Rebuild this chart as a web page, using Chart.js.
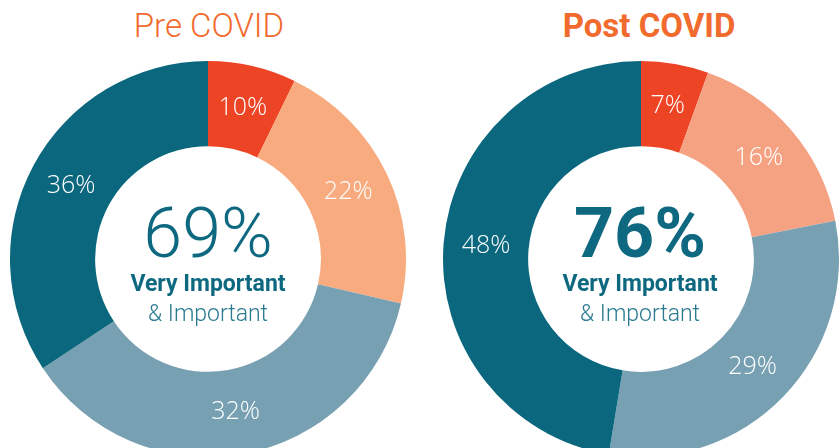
<!DOCTYPE html>
<html>
<head>
<meta charset="utf-8">
<script src="https://cdn.jsdelivr.net/npm/chart.js@4"></script>
<style>
  html, body { margin: 0; padding: 0; background: #fff; }
  body { width: 840px; height: 448px; overflow: hidden; position: relative; }
  canvas { position: absolute; }
  .title { position: absolute; top: 6px; width: 300px; text-align: center; font-family: Roboto, sans-serif; font-size: 33px; color: #f26b2e; line-height: 40px; }
  .center { position: absolute; width: 240px; text-align: center; font-family: Roboto, sans-serif; color: #0d6880; }
  .big { font-size: 70px; line-height: 70px; }
  .very { font-size: 23px; font-weight: 700; line-height: 30px; margin-top: 1px; }
  .imp { font-size: 23px; font-weight: 300; line-height: 30px; color: #2a7a90; }
</style>
</head>
<body>
<div class="title" style="left:59px; font-weight:300;">Pre COVID</div>
<div class="title" style="left:499px; font-weight:700;">Post COVID</div>
<canvas id="pre" width="396" height="396" style="left:10px; top:61px;"></canvas>
<canvas id="post" width="396" height="396" style="left:443px; top:61px;"></canvas>
<div class="center" style="left:88px; top:198px;">
  <div class="big" style="font-weight:300;">69%</div>
  <div class="very">Very Important</div>
  <div class="imp">&amp; Important</div>
</div>
<div class="center" style="left:520px; top:198px;">
  <div class="big" style="font-weight:700;">76%</div>
  <div class="very">Very Important</div>
  <div class="imp">&amp; Important</div>
</div>
<script>
  // Slice order, clockwise from 12 o'clock.
  const categories = ["Not Important", "Somewhat Important", "Important", "Very Important"];

  // Arc shares as drawn in the picture, plus the printed labels.
  const preValues = [7.2, 21.4, 37.1, 34.3];
  const preLabels = ["10%", "22%", "32%", "36%"];
  const postValues = [5.5, 16.4, 30.7, 47.4];
  const postLabels = ["7%", "16%", "29%", "48%"];

  const preColors = ["#ee4426", "#f8ab7f", "#78a0b3", "#0a677d"];
  const postColors = ["#ee4426", "#f5a283", "#78a0b3", "#0a677d"];

  // Writes the printed label at the middle of each arc.
  const sliceLabels = {
    id: "sliceLabels",
    afterDatasetsDraw(chart, args, opts) {
      const ctx = chart.ctx;
      const meta = chart.getDatasetMeta(0);
      ctx.save();
      ctx.fillStyle = "#ffffff";
      ctx.font = "300 25px 'Open Sans', sans-serif";
      ctx.textAlign = "center";
      ctx.textBaseline = "middle";
      meta.data.forEach(function (arc, i) {
        const p = arc.tooltipPosition();
        ctx.fillText(opts.labels[i], p.x, p.y);
      });
      ctx.restore();
    },
  };

  function makeDonut(id, values, labels, colors) {
    return new Chart(document.getElementById(id), {
      type: "doughnut",
      data: {
        labels: categories,
        datasets: [{ data: values, backgroundColor: colors, borderWidth: 0 }],
      },
      options: {
        responsive: false,
        animation: false,
        cutout: "57%",
        layout: { padding: 0 },
        plugins: {
          legend: { display: false },
          tooltip: { enabled: false },
          sliceLabels: { labels: labels },
        },
      },
      plugins: [sliceLabels],
    });
  }

  makeDonut("pre", preValues, preLabels, preColors);
  makeDonut("post", postValues, postLabels, postColors);
</script>
</body>
</html>
